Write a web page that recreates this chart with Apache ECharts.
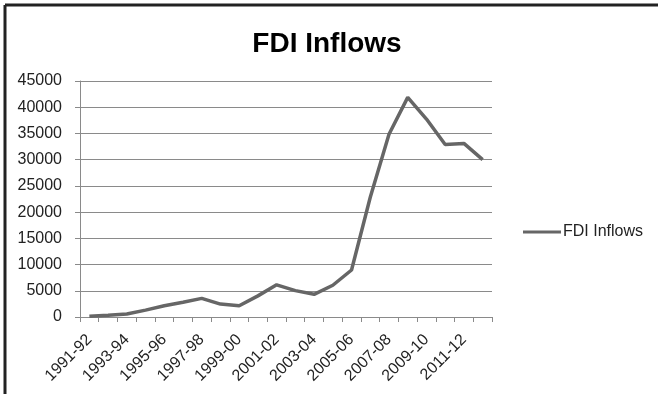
<!DOCTYPE html>
<html>
<head>
<meta charset="utf-8">
<script src="https://cdn.jsdelivr.net/npm/echarts@6/dist/echarts.min.js"></script>
<style>
  html, body { margin: 0; padding: 0; background: #fff; }
  #chart { width: 658px; height: 394px; }
</style>
</head>
<body>
<div id="chart"></div>
<script>
// Fiscal years on the category axis
const years = [
  '1991-92', '1992-93', '1993-94', '1994-95', '1995-96', '1996-97',
  '1997-98', '1998-99', '1999-00', '2000-01', '2001-02', '2002-03',
  '2003-04', '2004-05', '2005-06', '2006-07', '2007-08', '2008-09',
  '2009-10', '2010-11', '2011-12', '2012-13'
];

// FDI inflows per year
const fdiInflows = [
  129, 315, 586, 1314, 2144, 2821,
  3557, 2462, 2155, 4029, 6130, 5035,
  4322, 6051, 8961, 22826, 34843, 41873,
  37745, 32900, 33100, 30000
];

const seriesName = 'FDI Inflows';
const yTicks = { min: 0, max: 45000, step: 5000 };

const font = 'Liberation Sans, Arial, sans-serif';
const chart = echarts.init(document.getElementById('chart'));

chart.setOption({
  backgroundColor: '#ffffff',
  animation: false,
  title: {
    text: 'FDI Inflows',
    left: 322,
    textAlign: 'center',
    top: 25,
    textStyle: { fontFamily: font, fontSize: 28, fontWeight: 'bold', color: '#000' }
  },
  legend: {
    data: [seriesName],
    left: 518,
    top: 219,
    icon: 'rect',
    itemWidth: 38,
    itemHeight: 3,
    itemGap: 0,
    textStyle: { fontFamily: font, fontSize: 16, color: '#222', padding: [0, 0, 0, -3] }
  },
  grid: { left: 80, right: 166, top: 81, bottom: 77 },
  xAxis: {
    type: 'category',
    data: years,
    boundaryGap: true,
    axisLine: { lineStyle: { color: '#8a8a8a', width: 1 } },
    axisTick: { show: true, length: 5, interval: 0, lineStyle: { color: '#8a8a8a' } },
    axisLabel: {
      interval: 1,
      rotate: 45,
      margin: 20,
      fontFamily: font,
      fontSize: 16,
      color: '#222'
    },
    splitLine: { show: false }
  },
  yAxis: {
    type: 'value',
    min: yTicks.min,
    max: yTicks.max,
    interval: yTicks.step,
    axisLine: { show: true, lineStyle: { color: '#8a8a8a', width: 1 } },
    axisTick: { show: true, length: 5, lineStyle: { color: '#8a8a8a' } },
    axisLabel: {
      margin: 18,
      fontFamily: font,
      fontSize: 16,
      color: '#222',
      formatter: v => String(v)
    },
    splitLine: { lineStyle: { color: '#8a8a8a', width: 1 } }
  },
  series: [{
    name: seriesName,
    type: 'line',
    data: fdiInflows,
    symbol: 'none',
    lineStyle: { color: '#666666', width: 3.5 },
    itemStyle: { color: '#666666' }
  }],
  graphic: [
    { type: 'line', shape: { x1: 5, y1: 5, x2: 658, y2: 5 }, style: { stroke: '#222', lineWidth: 3 } },
    { type: 'line', shape: { x1: 5, y1: 5, x2: 5, y2: 394 }, style: { stroke: '#222', lineWidth: 3 } }
  ]
});
</script>
</body>
</html>
